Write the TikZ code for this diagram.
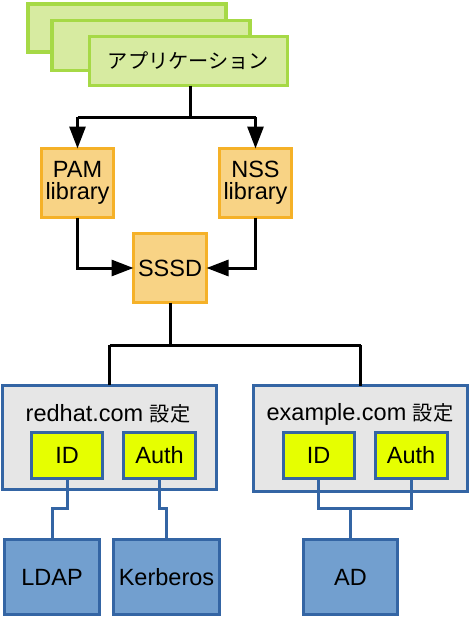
\documentclass[tikz,border=0pt]{standalone}
\usepackage{fontspec}
\setmainfont{Liberation Sans}
\newfontfamily\jp[Scale=0.86]{Noto Sans CJK JP}
\usetikzlibrary{arrows.meta}
\definecolor{grnB}{HTML}{A6D946}
\definecolor{grnF}{HTML}{D7EBA1}
\definecolor{orgB}{HTML}{F5B128}
\definecolor{orgF}{HTML}{F8D385}
\definecolor{bluB}{HTML}{3465A4}
\definecolor{bluF}{HTML}{729FCF}
\definecolor{gryF}{HTML}{E6E6E6}
\definecolor{yelF}{HTML}{E6FF00}
\begin{document}
\begin{tikzpicture}[x=1pt,y=-1pt,
  every node/.style={inner sep=0pt,outer sep=0pt,font=\fontsize{23.5}{22}\selectfont,align=center},
  appbox/.style={draw=grnB,fill=grnF,line width=3.5pt,minimum width=198pt,minimum height=48pt},
  libbox/.style={draw=orgB,fill=orgF,line width=3.2pt,minimum width=72pt,minimum height=69pt},
  dombox/.style={draw=bluB,fill=gryF,line width=3pt,minimum width=214pt,minimum height=104pt},
  subbox/.style={draw=bluB,fill=yelF,line width=3pt,minimum width=71pt,minimum height=46pt},
  srvbox/.style={draw=bluB,fill=bluF,line width=3pt,minimum height=75pt},
  conn/.style={line width=3pt,black},
  arr/.style={conn,-{Triangle[length=22pt,width=16pt]}},
  bconn/.style={line width=3pt,bluB}]
\useasboundingbox (0,0) rectangle (470,618);
% application stack
\node[appbox] (back1) at (127,28) {};
\node[appbox,minimum height=50pt] (back2) at (151,45.5) {};
\node[appbox,minimum height=49pt] (app) at (188.5,61) {{\jp アプリケーション}};
% libraries
\node[libbox] (pam) at (77.5,183) {PAM\\library};
\node[libbox] (nss) at (255.5,183) {NSS\\library};
\node[libbox,minimum width=73pt] (sssd) at (170,268) {SSSD};
% domains
\node[dombox] (dom1) at (109.5,437) {};
\node[dombox,minimum height=106pt] (dom2) at (360.5,438.5) {};
\node (lab1) at (108,414) {redhat.com {\jp 設定}};
\node (lab2) at (360,414) {example.com {\jp 設定}};
\node[subbox] (id1) at (67,455.5) {ID};
\node[subbox,minimum width=72pt] (auth1) at (159.5,455.5) {Auth};
\node[subbox] (id2) at (318.5,455.5) {ID};
\node[subbox,minimum width=72pt] (auth2) at (411,455.5) {Auth};
% servers
\node[srvbox,minimum width=95pt] (ldap) at (52,577) {LDAP};
\node[srvbox,minimum width=106pt] (kerb) at (166.5,577) {Kerberos};
\node[srvbox,minimum width=94pt] (ad) at (350.5,577) {AD};
% level coordinates
\coordinate (s1) at (190,117);
\coordinate (s2) at (170,345);
\coordinate (b1) at (0,508);
% black connectors
\draw[conn] (app.south -| s1) -- (s1);
\draw[conn] (pam.north |- s1) -- (nss.north |- s1);
\draw[arr] (pam.north |- s1) -- (pam.north);
\draw[arr] (nss.north |- s1) -- (nss.north);
\draw[arr] (pam.south) |- (sssd.west);
\draw[arr] (nss.south) |- (sssd.east);
\draw[conn] (sssd.south) -- (s2);
\draw[conn] (dom1.north |- s2) -- (dom2.north |- s2);
\draw[conn] (dom1.north |- s2) -- (dom1.north);
\draw[conn] (dom2.north |- s2) -- (dom2.north);
% blue connectors
\draw[bconn] (id1.south) -- (id1.south |- b1) -- (ldap.north |- b1) -- (ldap.north);
\draw[bconn] (auth1.south) -- (auth1.south |- b1) -- (kerb.north |- b1) -- (kerb.north);
\draw[bconn] (id2.south) -- (id2.south |- b1) -- (auth2.south |- b1) -- (auth2.south);
\draw[bconn] (ad.north) -- (ad.north |- b1);
\end{tikzpicture}
\end{document}
